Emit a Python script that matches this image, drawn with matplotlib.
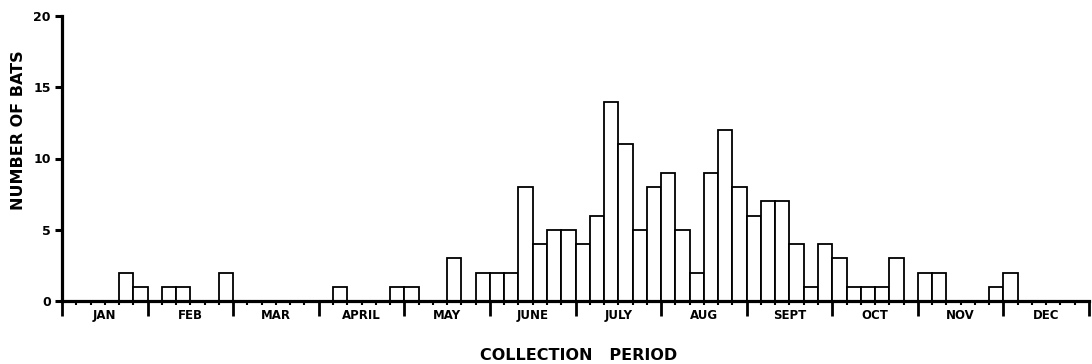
import matplotlib
matplotlib.use("Agg")
import matplotlib.pyplot as plt
import matplotlib.transforms as mtransforms
import numpy as np

# Data: number of bats collected per 5-day period (6 periods per month)
months = ["JAN", "FEB", "MAR", "APRIL", "MAY", "JUNE",
          "JULY", "AUG", "SEPT", "OCT", "NOV", "DEC"]
periods_per_month = 6
bats = [0, 0, 0, 0, 2, 1,     # Jan
        0, 1, 1, 0, 0, 2,     # Feb
        0, 0, 0, 0, 0, 0,     # Mar
        0, 1, 0, 0, 0, 1,     # Apr
        1, 0, 0, 3, 0, 2,     # May
        2, 2, 8, 4, 5, 5,     # Jun
        4, 6, 14, 11, 5, 8,   # Jul
        9, 5, 2, 9, 12, 8,    # Aug
        6, 7, 7, 4, 1, 4,     # Sep
        3, 1, 1, 1, 3, 0,     # Oct
        2, 2, 0, 0, 0, 1,     # Nov
        2, 0, 0, 0, 0, 0]     # Dec
yticks = [0, 5, 10, 15, 20]

W, H = 1092, 364
fig = plt.figure(figsize=(W / 100, H / 100), dpi=100)
ax = fig.add_axes([62 / W, 1 - 301 / H, (1089 - 62) / W, (301 - 16) / H])

vals = np.array(bats)
x = np.arange(len(vals))
mask = vals > 0
ax.bar(x[mask], vals[mask], width=1, align="edge", facecolor="white",
       edgecolor="black", linewidth=1.3, zorder=2)

n = len(vals)
ax.set_xlim(0, n)
ax.set_ylim(0, 20)

for s in ["top", "right"]:
    ax.spines[s].set_visible(False)
for s in ["left", "bottom"]:
    ax.spines[s].set_linewidth(2.3)
    ax.spines[s].set_zorder(3)

# x ticks: major at month boundaries, minor at every period
ax.set_xticks(np.arange(0, n + 1, periods_per_month))
ax.set_xticks(np.arange(0, n + 1, 1), minor=True)
ax.tick_params(axis="x", which="major", direction="out", length=11, width=2.0,
               labelbottom=False)
ax.tick_params(axis="x", which="minor", direction="out", length=3, width=1.5)

ax.set_yticks(yticks)
ax.set_yticklabels([str(v) for v in yticks], fontsize=9, fontweight="bold")
ax.tick_params(axis="y", which="major", direction="out", length=5, width=2.2, pad=3)

trans = mtransforms.blended_transform_factory(ax.transData, ax.transAxes)
for i, m in enumerate(months):
    ax.text(i * periods_per_month + periods_per_month / 2, -0.052, m,
            transform=trans, ha="center", va="center", fontsize=8.5,
            fontweight="bold")

fig.text(579 / W, 1 - 356 / H, "COLLECTION   PERIOD",
         ha="center", va="center", fontsize=11.5, fontweight="bold")
fig.text(19 / W, 1 - 130 / H, "NUMBER OF BATS", rotation=90,
         ha="center", va="center", fontsize=11.5, fontweight="bold")

fig.savefig("out.png", dpi=100)
